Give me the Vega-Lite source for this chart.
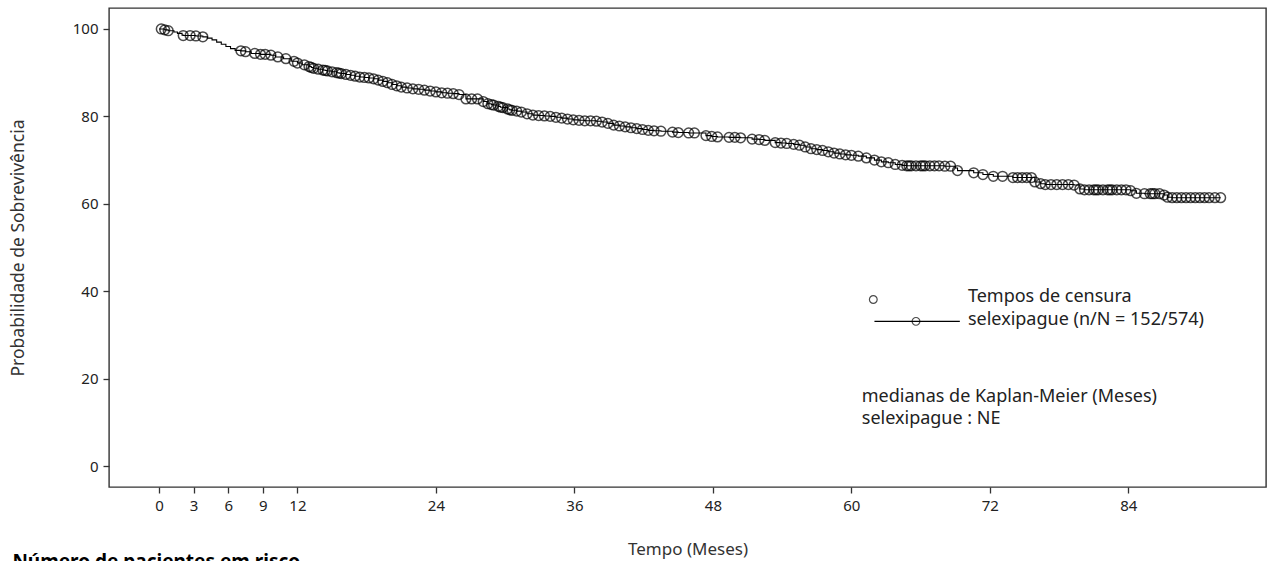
{
  "$schema": "https://vega.github.io/schema/vega-lite/v6.json",
  "autosize": {"type": "none"},
  "width": 1157,
  "height": 479,
  "padding": {"left": 109, "top": 8, "right": 3, "bottom": 74},
  "background": "white",
  "config": {
    "font": "Noto Sans",
    "view": {"stroke": "#333", "strokeWidth": 1.4},
    "axis": {"labelFont": "Noto Sans", "titleFont": "Noto Sans", "labelColor": "#222", "titleColor": "#333", "domain": false, "grid": false, "tickColor": "#333", "tickWidth": 1.3, "tickSize": 6, "labelFontSize": 15, "titleFontSize": 17, "titleFontWeight": "normal"}
  },
  "datasets": {
    "km": [
    {"t": 0, "s": 100, "c": 0},
    {"t": 0.2, "s": 100, "c": 1},
    {"t": 0.5, "s": 99.8, "c": 1},
    {"t": 0.8, "s": 99.6, "c": 1},
    {"t": 1.3, "s": 99.3, "c": 0},
    {"t": 1.6, "s": 99.0, "c": 0},
    {"t": 2.0, "s": 98.6, "c": 0},
    {"t": 2.1, "s": 98.5, "c": 1},
    {"t": 2.7, "s": 98.5, "c": 1},
    {"t": 3.2, "s": 98.4, "c": 1},
    {"t": 3.8, "s": 98.2, "c": 1},
    {"t": 4.2, "s": 97.9, "c": 0},
    {"t": 4.6, "s": 97.5, "c": 0},
    {"t": 5.0, "s": 97.0, "c": 0},
    {"t": 5.4, "s": 96.5, "c": 0},
    {"t": 5.8, "s": 96.0, "c": 0},
    {"t": 6.2, "s": 95.5, "c": 0},
    {"t": 6.6, "s": 95.1, "c": 0},
    {"t": 7.1, "s": 95.0, "c": 1},
    {"t": 7.5, "s": 94.8, "c": 1},
    {"t": 8.0, "s": 94.4, "c": 0},
    {"t": 8.3, "s": 94.4, "c": 1},
    {"t": 8.8, "s": 94.2, "c": 1},
    {"t": 9.2, "s": 94.2, "c": 1},
    {"t": 9.7, "s": 94.0, "c": 1},
    {"t": 10.1, "s": 93.6, "c": 0},
    {"t": 10.3, "s": 93.6, "c": 1},
    {"t": 10.8, "s": 93.2, "c": 0},
    {"t": 11.0, "s": 93.2, "c": 1},
    {"t": 11.5, "s": 92.6, "c": 0},
    {"t": 11.7, "s": 92.6, "c": 1},
    {"t": 12.0, "s": 92.2, "c": 1},
    {"t": 12.4, "s": 91.8, "c": 0},
    {"t": 12.6, "s": 91.8, "c": 1},
    {"t": 13.0, "s": 91.4, "c": 1},
    {"t": 13.2, "s": 91.2, "c": 1},
    {"t": 13.4, "s": 91.0, "c": 1},
    {"t": 13.8, "s": 90.8, "c": 1},
    {"t": 14.2, "s": 90.6, "c": 1},
    {"t": 14.4, "s": 90.5, "c": 1},
    {"t": 14.6, "s": 90.4, "c": 1},
    {"t": 15.0, "s": 90.2, "c": 1},
    {"t": 15.4, "s": 90.0, "c": 1},
    {"t": 15.6, "s": 89.9, "c": 1},
    {"t": 15.8, "s": 89.8, "c": 1},
    {"t": 16.2, "s": 89.6, "c": 1},
    {"t": 16.6, "s": 89.4, "c": 1},
    {"t": 17.0, "s": 89.2, "c": 1},
    {"t": 17.4, "s": 89.0, "c": 1},
    {"t": 17.8, "s": 88.9, "c": 1},
    {"t": 18.2, "s": 88.8, "c": 1},
    {"t": 18.6, "s": 88.6, "c": 1},
    {"t": 19.0, "s": 88.3, "c": 1},
    {"t": 19.4, "s": 88.0, "c": 1},
    {"t": 19.8, "s": 87.7, "c": 1},
    {"t": 20.2, "s": 87.3, "c": 1},
    {"t": 20.6, "s": 87.0, "c": 1},
    {"t": 21.0, "s": 86.7, "c": 1},
    {"t": 21.5, "s": 86.5, "c": 1},
    {"t": 22.0, "s": 86.3, "c": 1},
    {"t": 22.5, "s": 86.2, "c": 1},
    {"t": 23.0, "s": 86.0, "c": 1},
    {"t": 23.5, "s": 85.8, "c": 1},
    {"t": 24.0, "s": 85.6, "c": 1},
    {"t": 24.5, "s": 85.4, "c": 1},
    {"t": 25.0, "s": 85.3, "c": 1},
    {"t": 25.5, "s": 85.2, "c": 1},
    {"t": 26.0, "s": 85.0, "c": 1},
    {"t": 26.6, "s": 84.0, "c": 1},
    {"t": 27.1, "s": 84.0, "c": 1},
    {"t": 27.6, "s": 84.0, "c": 1},
    {"t": 28.1, "s": 83.4, "c": 1},
    {"t": 28.5, "s": 82.9, "c": 1},
    {"t": 28.8, "s": 82.7, "c": 1},
    {"t": 29.0, "s": 82.6, "c": 1},
    {"t": 29.4, "s": 82.3, "c": 1},
    {"t": 29.6, "s": 82.1, "c": 1},
    {"t": 29.8, "s": 82.0, "c": 1},
    {"t": 30.2, "s": 81.7, "c": 1},
    {"t": 30.4, "s": 81.5, "c": 1},
    {"t": 30.6, "s": 81.4, "c": 1},
    {"t": 31.0, "s": 81.2, "c": 1},
    {"t": 31.4, "s": 81.0, "c": 1},
    {"t": 31.9, "s": 80.6, "c": 1},
    {"t": 32.4, "s": 80.3, "c": 1},
    {"t": 32.9, "s": 80.2, "c": 1},
    {"t": 33.4, "s": 80.1, "c": 1},
    {"t": 33.9, "s": 80.0, "c": 1},
    {"t": 34.4, "s": 79.8, "c": 1},
    {"t": 34.9, "s": 79.6, "c": 1},
    {"t": 35.4, "s": 79.4, "c": 1},
    {"t": 35.9, "s": 79.2, "c": 1},
    {"t": 36.4, "s": 79.1, "c": 1},
    {"t": 36.9, "s": 79.0, "c": 1},
    {"t": 37.4, "s": 79.0, "c": 1},
    {"t": 37.9, "s": 78.9, "c": 1},
    {"t": 38.4, "s": 78.7, "c": 1},
    {"t": 38.9, "s": 78.4, "c": 1},
    {"t": 39.4, "s": 78.0, "c": 1},
    {"t": 39.9, "s": 77.8, "c": 1},
    {"t": 40.4, "s": 77.6, "c": 1},
    {"t": 40.9, "s": 77.4, "c": 1},
    {"t": 41.4, "s": 77.2, "c": 1},
    {"t": 41.9, "s": 77.0, "c": 1},
    {"t": 42.4, "s": 76.8, "c": 1},
    {"t": 42.9, "s": 76.7, "c": 1},
    {"t": 43.5, "s": 76.6, "c": 1},
    {"t": 44.5, "s": 76.4, "c": 1},
    {"t": 45.0, "s": 76.3, "c": 1},
    {"t": 45.9, "s": 76.2, "c": 1},
    {"t": 46.4, "s": 76.2, "c": 1},
    {"t": 47.4, "s": 75.6, "c": 1},
    {"t": 47.9, "s": 75.4, "c": 1},
    {"t": 48.4, "s": 75.3, "c": 1},
    {"t": 49.4, "s": 75.2, "c": 1},
    {"t": 49.9, "s": 75.2, "c": 1},
    {"t": 50.4, "s": 75.1, "c": 1},
    {"t": 51.4, "s": 74.8, "c": 1},
    {"t": 52.0, "s": 74.7, "c": 1},
    {"t": 52.5, "s": 74.5, "c": 1},
    {"t": 53.4, "s": 74.0, "c": 1},
    {"t": 53.9, "s": 73.9, "c": 1},
    {"t": 54.4, "s": 73.8, "c": 1},
    {"t": 55.0, "s": 73.6, "c": 1},
    {"t": 55.5, "s": 73.4, "c": 1},
    {"t": 56.0, "s": 73.0, "c": 1},
    {"t": 56.5, "s": 72.6, "c": 1},
    {"t": 57.0, "s": 72.4, "c": 1},
    {"t": 57.5, "s": 72.2, "c": 1},
    {"t": 58.0, "s": 71.9, "c": 1},
    {"t": 58.5, "s": 71.6, "c": 1},
    {"t": 59.0, "s": 71.4, "c": 1},
    {"t": 59.5, "s": 71.2, "c": 1},
    {"t": 60.0, "s": 71.1, "c": 1},
    {"t": 60.6, "s": 70.9, "c": 1},
    {"t": 61.3, "s": 70.5, "c": 1},
    {"t": 62.0, "s": 70.0, "c": 1},
    {"t": 62.6, "s": 69.6, "c": 1},
    {"t": 63.2, "s": 69.4, "c": 1},
    {"t": 63.8, "s": 69.0, "c": 1},
    {"t": 64.4, "s": 68.8, "c": 1},
    {"t": 64.8, "s": 68.7, "c": 1},
    {"t": 65.0, "s": 68.7, "c": 1},
    {"t": 65.2, "s": 68.7, "c": 1},
    {"t": 65.6, "s": 68.7, "c": 1},
    {"t": 66.0, "s": 68.7, "c": 1},
    {"t": 66.2, "s": 68.7, "c": 1},
    {"t": 66.4, "s": 68.7, "c": 1},
    {"t": 66.8, "s": 68.7, "c": 1},
    {"t": 67.2, "s": 68.7, "c": 1},
    {"t": 67.6, "s": 68.7, "c": 1},
    {"t": 68.1, "s": 68.6, "c": 1},
    {"t": 68.6, "s": 68.6, "c": 1},
    {"t": 69.0, "s": 68.2, "c": 0},
    {"t": 69.2, "s": 67.6, "c": 1},
    {"t": 70.6, "s": 67.1, "c": 1},
    {"t": 71.4, "s": 66.7, "c": 1},
    {"t": 72.3, "s": 66.3, "c": 1},
    {"t": 73.1, "s": 66.3, "c": 1},
    {"t": 74.0, "s": 66.0, "c": 1},
    {"t": 74.4, "s": 66.0, "c": 1},
    {"t": 74.8, "s": 66.0, "c": 1},
    {"t": 75.2, "s": 66.0, "c": 1},
    {"t": 75.6, "s": 66.0, "c": 1},
    {"t": 75.9, "s": 65.0, "c": 1},
    {"t": 76.4, "s": 64.6, "c": 1},
    {"t": 76.8, "s": 64.4, "c": 1},
    {"t": 77.3, "s": 64.4, "c": 1},
    {"t": 77.8, "s": 64.4, "c": 1},
    {"t": 78.3, "s": 64.4, "c": 1},
    {"t": 78.8, "s": 64.4, "c": 1},
    {"t": 79.3, "s": 64.3, "c": 1},
    {"t": 79.8, "s": 63.4, "c": 1},
    {"t": 80.2, "s": 63.2, "c": 1},
    {"t": 80.6, "s": 63.2, "c": 1},
    {"t": 81.0, "s": 63.2, "c": 1},
    {"t": 81.2, "s": 63.2, "c": 1},
    {"t": 81.4, "s": 63.2, "c": 1},
    {"t": 81.8, "s": 63.2, "c": 1},
    {"t": 82.2, "s": 63.2, "c": 1},
    {"t": 82.4, "s": 63.2, "c": 1},
    {"t": 82.6, "s": 63.2, "c": 1},
    {"t": 83.0, "s": 63.2, "c": 1},
    {"t": 83.4, "s": 63.2, "c": 1},
    {"t": 83.8, "s": 63.2, "c": 1},
    {"t": 84.2, "s": 63.0, "c": 1},
    {"t": 84.7, "s": 62.4, "c": 1},
    {"t": 85.4, "s": 62.3, "c": 1},
    {"t": 85.9, "s": 62.3, "c": 1},
    {"t": 86.1, "s": 62.3, "c": 1},
    {"t": 86.3, "s": 62.3, "c": 1},
    {"t": 86.7, "s": 62.3, "c": 1},
    {"t": 87.1, "s": 62.0, "c": 1},
    {"t": 87.4, "s": 61.5, "c": 1},
    {"t": 87.8, "s": 61.4, "c": 1},
    {"t": 88.2, "s": 61.4, "c": 1},
    {"t": 88.6, "s": 61.4, "c": 1},
    {"t": 89.0, "s": 61.4, "c": 1},
    {"t": 89.4, "s": 61.4, "c": 1},
    {"t": 89.8, "s": 61.4, "c": 1},
    {"t": 90.2, "s": 61.4, "c": 1},
    {"t": 90.6, "s": 61.4, "c": 1},
    {"t": 91.0, "s": 61.4, "c": 1},
    {"t": 91.5, "s": 61.4, "c": 1},
    {"t": 92.0, "s": 61.4, "c": 1}
    ],
    "one": [{"k": 1}]
  },
  "layer": [
    {
      "data": {"name": "km"},
      "mark": {"type": "line", "interpolate": "step-after", "color": "black", "strokeWidth": 1.1},
      "encoding": {
        "x": {"field": "t", "type": "quantitative", "scale": {"domain": [-4.33, 95.93], "nice": false, "zero": false},
              "axis": {"values": [0, 3, 6, 9, 12, 24, 36, 48, 60, 72, 84], "title": "Tempo (Meses)", "labelPadding": 5, "titleY": 62, "titleBaseline": "middle"}},
        "y": {"field": "s", "type": "quantitative", "scale": {"domain": [-4.8, 104.8], "nice": false, "zero": false},
              "axis": {"values": [0, 20, 40, 60, 80, 100], "title": "Probabilidade de Sobrevivência", "labelPadding": 5, "titleX": -91, "titleBaseline": "middle", "titleFontSize": 17.5}},
        "order": {"field": "t", "type": "quantitative"}
      }
    },
    {
      "data": {"name": "km"},
      "transform": [{"filter": "datum.c == 1"}],
      "mark": {"type": "point", "shape": "circle", "filled": false, "stroke": "black", "size": 95, "strokeWidth": 1.5},
      "encoding": {
        "x": {"field": "t", "type": "quantitative"},
        "y": {"field": "s", "type": "quantitative"}
      }
    },
    {
      "data": {"name": "one"},
      "mark": {"type": "point", "shape": "circle", "filled": false, "stroke": "black", "size": 60, "strokeWidth": 1.2},
      "encoding": {"x": {"datum": 61.9}, "y": {"datum": 38.1}}
    },
    {
      "data": {"name": "one"},
      "mark": {"type": "rule", "stroke": "black", "strokeWidth": 1.1},
      "encoding": {"x": {"datum": 62.0}, "x2": {"datum": 69.4}, "y": {"datum": 33.1}}
    },
    {
      "data": {"name": "one"},
      "mark": {"type": "point", "shape": "circle", "filled": false, "stroke": "black", "size": 60, "strokeWidth": 1.2},
      "encoding": {"x": {"datum": 65.6}, "y": {"datum": 33.1}}
    },
    {
      "data": {"name": "one"},
      "mark": {"type": "text", "align": "left", "baseline": "middle", "fontSize": 18, "fill": "#222", "font": "Noto Sans"},
      "encoding": {"x": {"datum": 70.1}, "y": {"datum": 38.6}, "text": {"value": "Tempos de censura"}}
    },
    {
      "data": {"name": "one"},
      "mark": {"type": "text", "align": "left", "baseline": "middle", "fontSize": 18, "fill": "#222", "font": "Noto Sans"},
      "encoding": {"x": {"datum": 70.1}, "y": {"datum": 33.5}, "text": {"value": "selexipague (n/N = 152/574)"}}
    },
    {
      "data": {"name": "one"},
      "mark": {"type": "text", "align": "left", "baseline": "middle", "fontSize": 18, "fill": "#222", "font": "Noto Sans"},
      "encoding": {"x": {"datum": 60.9}, "y": {"datum": 15.9}, "text": {"value": "medianas de Kaplan-Meier (Meses)"}}
    },
    {
      "data": {"name": "one"},
      "mark": {"type": "text", "align": "left", "baseline": "middle", "fontSize": 18, "fill": "#222", "font": "Noto Sans"},
      "encoding": {"x": {"datum": 60.9}, "y": {"datum": 10.7}, "text": {"value": "selexipague : NE"}}
    },
    {
      "data": {"name": "one"},
      "mark": {"type": "text", "align": "left", "baseline": "middle", "fontSize": 19, "fontWeight": "bold", "fill": "black", "font": "Noto Sans"},
      "encoding": {"x": {"datum": -12.7}, "y": {"datum": -21.9}, "text": {"value": "Número de pacientes em risco"}}
    }
  ]
}
